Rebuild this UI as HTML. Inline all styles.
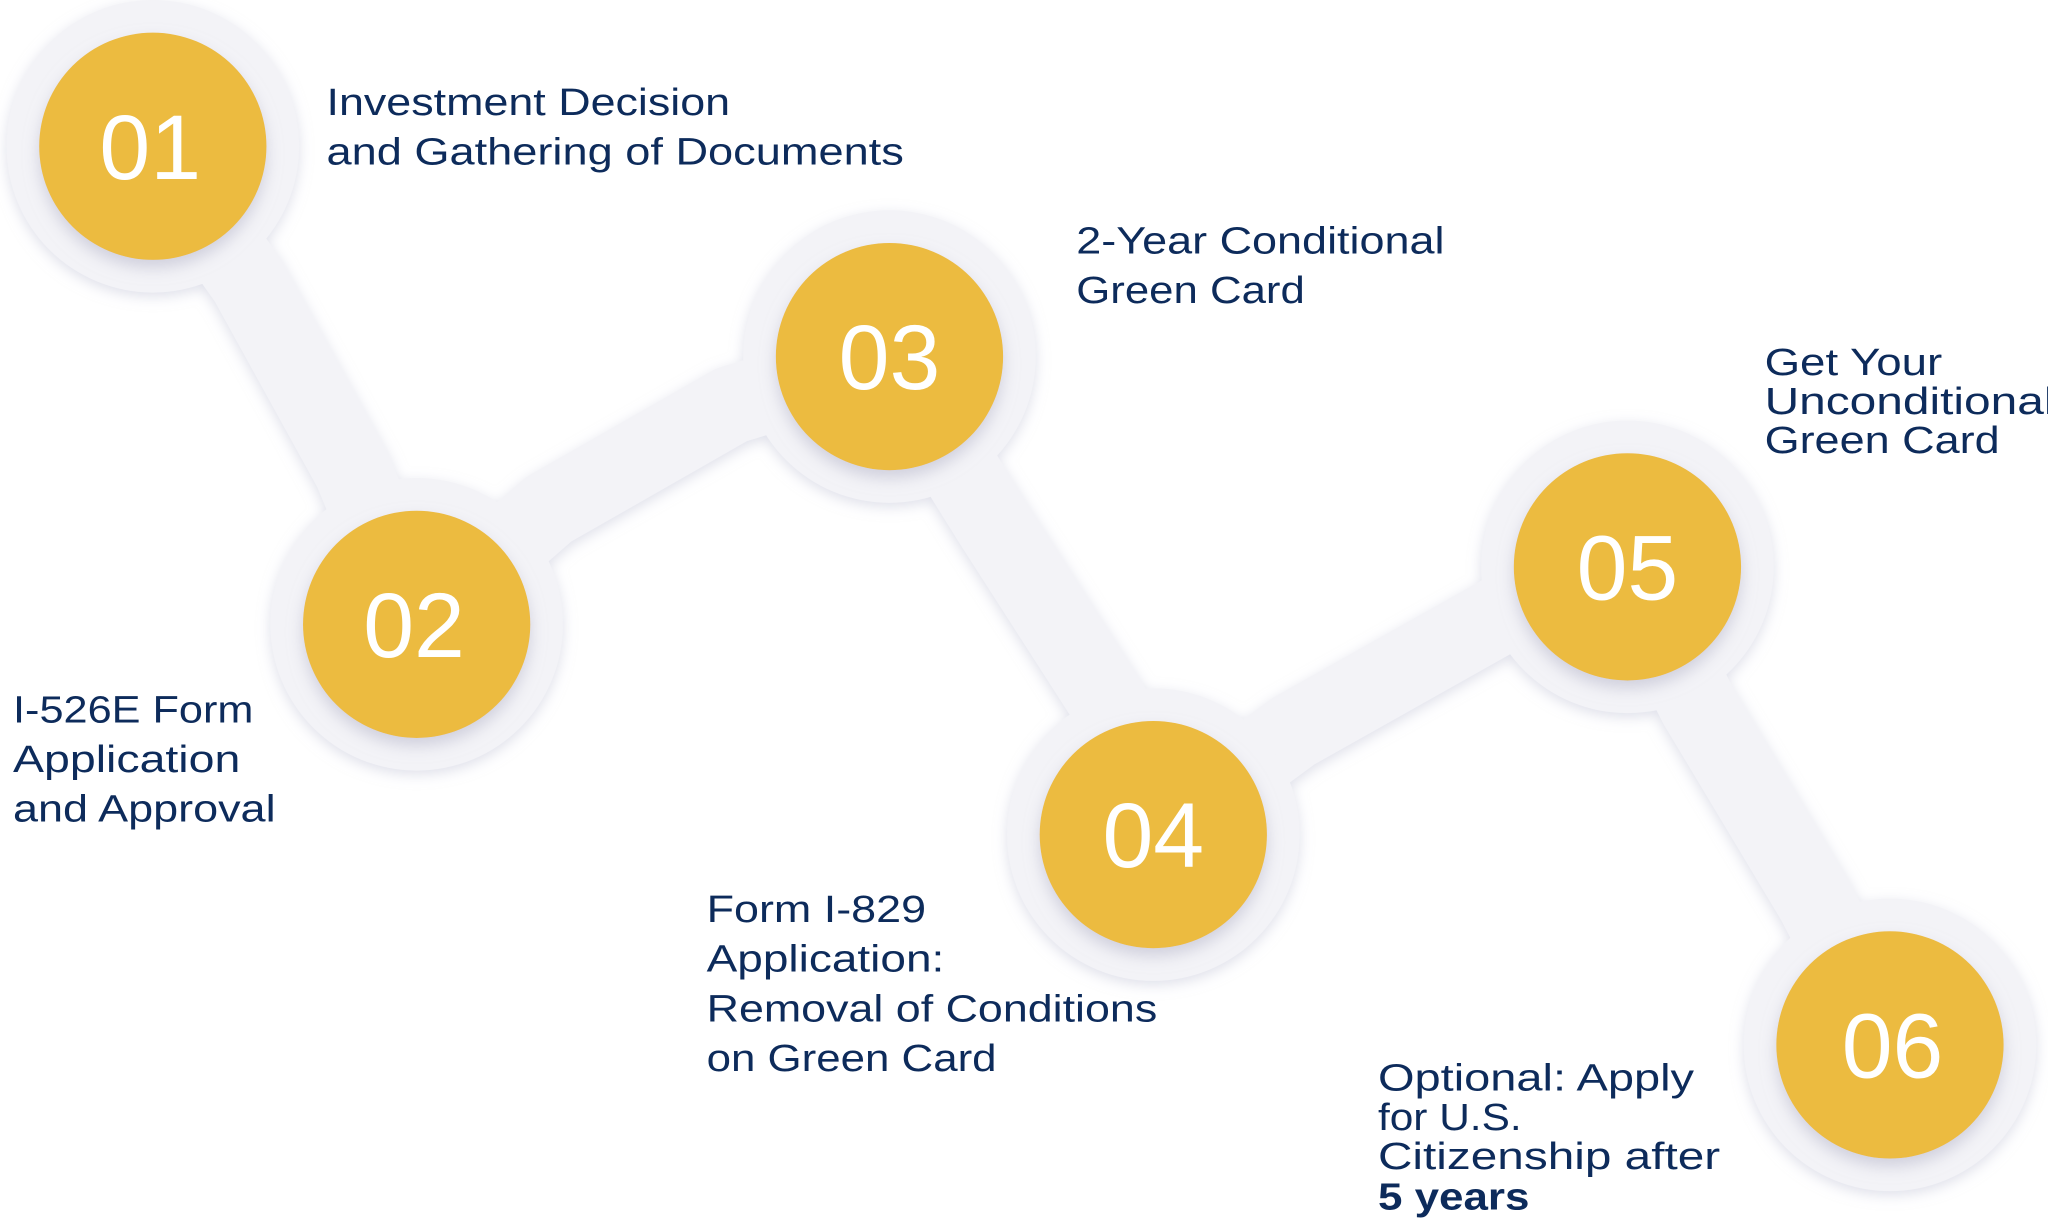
<!DOCTYPE html>
<html><head><meta charset="utf-8"><style>
html,body{margin:0;padding:0;background:#fff;width:2048px;height:1219px;overflow:hidden}
svg{display:block}
</style></head><body>
<svg width="2048" height="1219" viewBox="0 0 1568 933.3" preserveAspectRatio="none">
<defs>
<filter id="sh" x="-20%" y="-20%" width="140%" height="140%">
<feDropShadow dx="0" dy="3" stdDeviation="5" flood-color="#c9cadb" flood-opacity="0.6"/>
</filter>
<filter id="sh2" x="-20%" y="-20%" width="140%" height="140%">
<feDropShadow dx="0" dy="6" stdDeviation="6" flood-color="#b9b9cc" flood-opacity="0.6"/>
</filter>
</defs>
<g filter="url(#sh)">
<polyline points="117,112 190,215 270,360 319,478 420,390 560,310 681,273 760,400 850,540 883,639 990,560 1150,470 1246,434 1300,540 1390,690 1447,800" fill="none" stroke="#f3f3f7" stroke-width="60" stroke-linejoin="round" stroke-linecap="round"/>
<circle cx="117" cy="112" r="112" fill="#f3f3f7"/>
<circle cx="319" cy="478" r="112" fill="#f3f3f7"/>
<circle cx="681" cy="273" r="112" fill="#f3f3f7"/>
<circle cx="883" cy="639" r="112" fill="#f3f3f7"/>
<circle cx="1246" cy="434" r="112" fill="#f3f3f7"/>
<circle cx="1447" cy="800" r="112" fill="#f3f3f7"/>
</g>
<g fill="#ecbb41" filter="url(#sh2)">
<circle cx="117" cy="112" r="87"/>
<circle cx="319" cy="478" r="87"/>
<circle cx="681" cy="273" r="87"/>
<circle cx="883" cy="639" r="87"/>
<circle cx="1246" cy="434" r="87"/>
<circle cx="1447" cy="800" r="87"/>
</g>
<g fill="#fff" font-family="Liberation Sans, sans-serif" font-size="70" text-anchor="middle">
<text x="115" y="137">01</text>
<text x="317" y="503">02</text>
<text x="681" y="298">03</text>
<text x="883" y="664">04</text>
<text x="1246" y="459">05</text>
<text x="1449" y="825">06</text>
</g>
<g fill="#0d2b5b" font-family="Liberation Sans, sans-serif" font-size="29" lengthAdjust="spacingAndGlyphs">
<text x="250" y="88" textLength="309" lengthAdjust="spacingAndGlyphs">Investment Decision</text>
<text x="250" y="126" textLength="442" lengthAdjust="spacingAndGlyphs">and Gathering of Documents</text>
<text x="824" y="194" textLength="282" lengthAdjust="spacingAndGlyphs">2-Year Conditional</text>
<text x="824" y="232" textLength="175" lengthAdjust="spacingAndGlyphs">Green Card</text>
<text x="1351" y="287" textLength="136" lengthAdjust="spacingAndGlyphs">Get Your</text>
<text x="1351" y="317" textLength="222" lengthAdjust="spacingAndGlyphs">Unconditional</text>
<text x="1351" y="347" textLength="180" lengthAdjust="spacingAndGlyphs">Green Card</text>
<text x="10" y="553" textLength="184" lengthAdjust="spacingAndGlyphs">I-526E Form</text>
<text x="10" y="591" textLength="174" lengthAdjust="spacingAndGlyphs">Application</text>
<text x="10" y="629" textLength="201" lengthAdjust="spacingAndGlyphs">and Approval</text>
<text x="541" y="706" textLength="168" lengthAdjust="spacingAndGlyphs">Form I-829</text>
<text x="541" y="744" textLength="182" lengthAdjust="spacingAndGlyphs">Application:</text>
<text x="541" y="782" textLength="345" lengthAdjust="spacingAndGlyphs">Removal of Conditions</text>
<text x="541" y="820" textLength="222" lengthAdjust="spacingAndGlyphs">on Green Card</text>
<text x="1055" y="835" textLength="242" lengthAdjust="spacingAndGlyphs">Optional: Apply</text>
<text x="1055" y="865" textLength="110" lengthAdjust="spacingAndGlyphs">for U.S.</text>
<text x="1055" y="895" textLength="262" lengthAdjust="spacingAndGlyphs">Citizenship after</text>
<text x="1055" y="926" font-weight="bold" textLength="116" lengthAdjust="spacingAndGlyphs">5 years</text>
</g>
</svg>
</body></html>
